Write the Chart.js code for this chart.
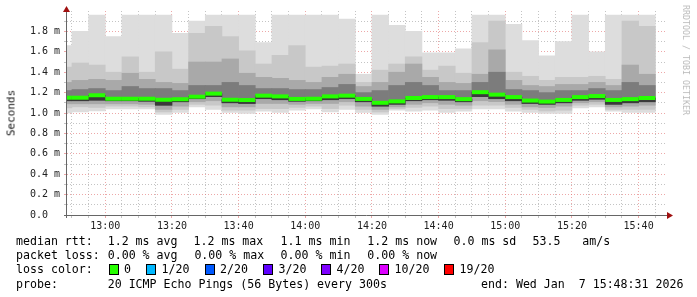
<!DOCTYPE html>
<html>
<head>
<meta charset="utf-8">
<script src="https://cdn.jsdelivr.net/npm/chart.js@4.4.1/dist/chart.umd.min.js"></script>
<style>
html, body { margin: 0; padding: 0; background: #fff; }
#wrap { position: relative; width: 697px; height: 297px; overflow: hidden; font-family: "DejaVu Sans Mono", monospace; }
#wrap canvas { position: absolute; left: 0; top: 0; }
.t { position: absolute; white-space: pre; font-size: 11.6px; line-height: 14px; color: #000; }
.box { position: absolute; width: 8px; height: 9px; border: 1px solid #000; }
#ytitle { position: absolute; left: 11px; top: 113px; font-size: 11px; font-weight: normal; color: #111; transform: translate(-50%, -50%) rotate(-90deg); white-space: pre; }
#brand { position: absolute; left: 686px; top: 60px; font-size: 8.3px; color: #bbb; transform: translate(-50%, -50%) rotate(90deg); white-space: pre; }
</style>
</head>
<body>
<div id="wrap">
  <canvas id="myChart" width="697" height="297"></canvas>
  <div id="ytitle">Seconds</div>
  <div id="brand">RRDTOOL / TOBI OETIKER</div>
  <div id="legend"></div>
</div>
<script>
// 5 minute slots (start time), 20 pings each, values in ms
const slots = ['12:45','12:50','12:55','13:00','13:05','13:10','13:15','13:20','13:25','13:30','13:35','13:40',
               '13:45','13:50','13:55','14:00','14:05','14:10','14:15','14:20','14:25','14:30','14:35','14:40',
               '14:45','14:50','14:55','15:00','15:05','15:10','15:15','15:20','15:25','15:30','15:35','15:40'];

const maxPing = [1.66,1.80,1.96,1.75,1.96,1.96,1.96,1.78,1.90,1.96,1.96,1.96,1.69,1.96,1.96,1.96,1.96,1.92,
                 1.38,1.96,1.86,1.80,1.59,1.59,1.63,1.96,1.96,1.87,1.71,1.56,1.70,1.96,1.60,1.96,1.96,1.96];
const upper1 = [1.45,1.49,1.47,1.40,1.55,1.40,1.60,1.43,1.78,1.85,1.75,1.61,1.48,1.565,1.66,1.45,1.46,1.48,
                1.30,1.42,1.48,1.55,1.42,1.46,1.39,1.69,1.90,1.40,1.36,1.32,1.35,1.35,1.36,1.33,1.90,1.85];
const upper2 = [1.30,1.32,1.33,1.32,1.39,1.33,1.30,1.29,1.50,1.50,1.53,1.39,1.35,1.34,1.32,1.30,1.35,1.38,
                1.26,1.30,1.40,1.48,1.35,1.30,1.29,1.38,1.62,1.32,1.27,1.26,1.28,1.28,1.30,1.27,1.47,1.38];
const upper3 = [1.22,1.23,1.24,1.22,1.26,1.24,1.24,1.22,1.27,1.27,1.30,1.27,1.24,1.24,1.23,1.23,1.25,1.28,
                1.20,1.22,1.27,1.30,1.27,1.22,1.22,1.30,1.40,1.23,1.22,1.20,1.22,1.22,1.24,1.22,1.30,1.27];
const median = [1.15,1.15,1.174,1.14,1.14,1.14,1.13,1.135,1.16,1.19,1.13,1.127,1.17,1.163,1.138,1.14,1.163,1.17,
                1.138,1.10,1.114,1.147,1.156,1.156,1.136,1.204,1.18,1.156,1.122,1.112,1.128,1.156,1.166,1.128,1.136,1.147];
const lower3 = [1.12,1.12,1.125,1.12,1.12,1.115,1.076,1.11,1.14,1.16,1.10,1.093,1.14,1.13,1.115,1.12,1.13,1.14,
                1.11,1.067,1.085,1.12,1.13,1.125,1.11,1.16,1.14,1.12,1.093,1.085,1.10,1.125,1.135,1.085,1.10,1.11];
const lower2 = [1.09,1.09,1.09,1.09,1.09,1.085,1.035,1.067,1.11,1.12,1.06,1.06,1.093,1.093,1.085,1.093,1.093,1.11,
                1.067,1.035,1.06,1.085,1.10,1.085,1.076,1.12,1.11,1.085,1.06,1.054,1.067,1.10,1.11,1.06,1.067,1.076];
const lower1 = [1.05,1.06,1.054,1.067,1.067,1.06,1.01,1.035,1.083,1.076,1.027,1.027,1.043,1.043,1.054,1.067,1.043,1.076,
                1.035,1.01,1.043,1.054,1.067,1.043,1.043,1.076,1.076,1.054,1.035,1.02,1.027,1.076,1.085,1.035,1.035,1.035];
const minPing = [1.00,1.01,1.02,1.04,1.04,1.04,0.985,1.005,1.06,1.035,1.005,0.995,1.018,1.005,1.027,1.04,1.01,1.036,
                 1.005,0.985,1.027,1.018,1.027,1.005,1.018,1.04,1.04,1.018,1.005,0.995,0.995,1.05,1.06,1.018,1.005,1.005];

const xStart = '12:48:31';
const xEnd = '15:48:31';

const lossLabels = ['0', '1/20', '2/20', '3/20', '4/20', '10/20', '19/20'];
const lossColors = ['#26ff00', '#00b8ff', '#0059ff', '#5e00ff', '#7e00ff', '#dd00ff', '#ff0000'];

function toMin(s) {
    const p = s.split(':').map(Number);
    return p[0] * 60 + p[1] + (p[2] || 0) / 60;
}
const centers = slots.map(s => toMin(s) + 2.5);

function band(lo, hi, color, order) {
    return {
        type: 'bar',
        data: centers.map((x, i) => ({ x: x, y: [lo[i], hi[i]] })),
        backgroundColor: color,
        borderWidth: 0,
        barPercentage: 1,
        categoryPercentage: 1,
        grouped: false,
        order: order
    };
}

const axisArrows = {
    id: 'axisArrows',
    afterDraw(chart) {
        const { ctx, chartArea: a } = chart;
        const ax = a.left - 0.5, ay = a.bottom + 0.5;
        ctx.save();
        ctx.strokeStyle = '#666';
        ctx.lineWidth = 1;
        ctx.beginPath();
        ctx.moveTo(ax, a.bottom + 3);
        ctx.lineTo(ax, a.top - 2);
        ctx.moveTo(a.left - 3, ay);
        ctx.lineTo(a.right + 2, ay);
        ctx.stroke();
        ctx.fillStyle = '#a01010';
        ctx.beginPath();
        ctx.moveTo(ax, a.top - 5);
        ctx.lineTo(ax - 3.5, a.top + 1);
        ctx.lineTo(ax + 3.5, a.top + 1);
        ctx.closePath();
        ctx.fill();
        ctx.beginPath();
        ctx.moveTo(a.right + 6, ay);
        ctx.lineTo(a.right, ay - 3.5);
        ctx.lineTo(a.right, ay + 3.5);
        ctx.closePath();
        ctx.fill();
        ctx.restore();
    }
};

const minorGrid = 'rgba(165,165,165,0.65)';
const majorGrid = 'rgba(225,110,110,0.6)';

const ctx = document.getElementById('myChart').getContext('2d');
const myChart = new Chart(ctx, {
    type: 'bar',
    data: {
        datasets: [
            band(minPing, maxPing, '#dddddd', 6),
            band(lower1, upper1, '#c8c8c8', 5),
            band(lower2, upper2, '#a9a9a9', 4),
            band(lower3, upper3, '#7c7c7c', 3),
            band(lower3, median, '#3a3a3a', 2),
            {
                type: 'line',
                data: centers.map((x, i) => ({ x: x, y: median[i] })),
                showLine: false,
                pointStyle: 'line',
                pointRadius: (c) => {
                    const s = c.chart.scales.x;
                    return (s.getPixelForValue(10) - s.getPixelForValue(5)) / 2;
                },
                pointBorderWidth: 4,
                pointBorderColor: '#26ff00',
                pointBackgroundColor: '#26ff00',
                order: 0
            }
        ]
    },
    options: {
        responsive: false,
        animation: false,
        devicePixelRatio: 1,
        layout: { padding: { left: 0, top: 11, right: 30, bottom: 62 } },
        plugins: {
            legend: { display: false },
            tooltip: { enabled: false }
        },
        scales: {
            x: {
                type: 'linear',
                min: toMin(xStart),
                max: toMin(xEnd),
                offset: false,
                z: 1,
                afterFit: (s) => { s.height = 20; },
                afterBuildTicks: (s) => {
                    const t = [];
                    for (let m = Math.ceil(s.min / 5) * 5; m <= s.max; m += 5) t.push({ value: m });
                    s.ticks = t;
                },
                grid: {
                    offset: false,
                    drawTicks: true,
                    tickLength: 3,
                    color: (c) => (c.tick && c.tick.value % 20 === 0) ? majorGrid : minorGrid
                },
                border: { display: false, dash: [1, 2] },
                ticks: {
                    autoSkip: false,
                    maxRotation: 0,
                    padding: 2,
                    color: '#222',
                    font: { family: 'DejaVu Sans Mono', size: 10 },
                    callback: (v) => {
                        if (v % 20 !== 0) return '';
                        const h = Math.floor(v / 60), m = v % 60;
                        return h + ':' + String(m).padStart(2, '0');
                    }
                }
            },
            y: {
                min: 0,
                max: 2.0,
                z: 1,
                afterFit: (s) => { s.width = 67; },
                afterBuildTicks: (s) => {
                    const t = [];
                    for (let k = 0; k <= 19; k++) t.push({ value: k / 10 });
                    s.ticks = t;
                },
                grid: {
                    drawTicks: true,
                    tickLength: 3,
                    color: (c) => {
                        if (!c.tick) return minorGrid;
                        return Math.round(c.tick.value * 10) % 2 === 0 ? majorGrid : minorGrid;
                    }
                },
                border: { display: false, dash: [1, 2] },
                ticks: {
                    autoSkip: false,
                    padding: 4,
                    color: '#222',
                    font: { family: 'DejaVu Sans Mono', size: 10 },
                    callback: (v) => {
                        const k = Math.round(v * 10);
                        if (k % 2 !== 0) return '';
                        if (k === 0) return '0.0  ';
                        return (k / 10).toFixed(1) + ' m';
                    }
                }
            }
        }
    },
    plugins: [axisArrows]
});

// legend block under the graph
const legend = document.getElementById('legend');
function text(str, x, y) {
    const d = document.createElement('div');
    d.className = 't';
    d.style.left = x + 'px';
    d.style.top = y + 'px';
    d.textContent = str;
    legend.appendChild(d);
}
text('median rtt:', 16, 234);
text('1.2 ms avg', 107.7, 234);
text('1.2 ms max', 193.5, 234);
text('1.1 ms min', 280.6, 234);
text('1.2 ms now', 367.3, 234);
text('0.0 ms sd', 453.5, 234);
text('53.5', 532.6, 234);
text('am/s', 582.2, 234);

text('packet loss:', 16, 248);
text('0.00 % avg', 107.7, 248);
text('0.00 % max', 194.4, 248);
text('0.00 % min', 280.6, 248);
text('0.00 % now', 367.3, 248);

text('loss color:', 16, 262);
const boxX = [108.6, 146, 204.6, 263, 321, 379, 444];
lossLabels.forEach((l, i) => {
    const b = document.createElement('div');
    b.className = 'box';
    b.style.left = boxX[i] + 'px';
    b.style.top = '264px';
    b.style.background = lossColors[i];
    legend.appendChild(b);
    text(l, boxX[i] + 15.5, 262);
});

text('probe:', 16, 277);
text('20 ICMP Echo Pings (56 Bytes) every 300s', 107.7, 277);
text('end: Wed Jan  7 15:48:31 2026', 481, 277);
</script>
</body>
</html>
